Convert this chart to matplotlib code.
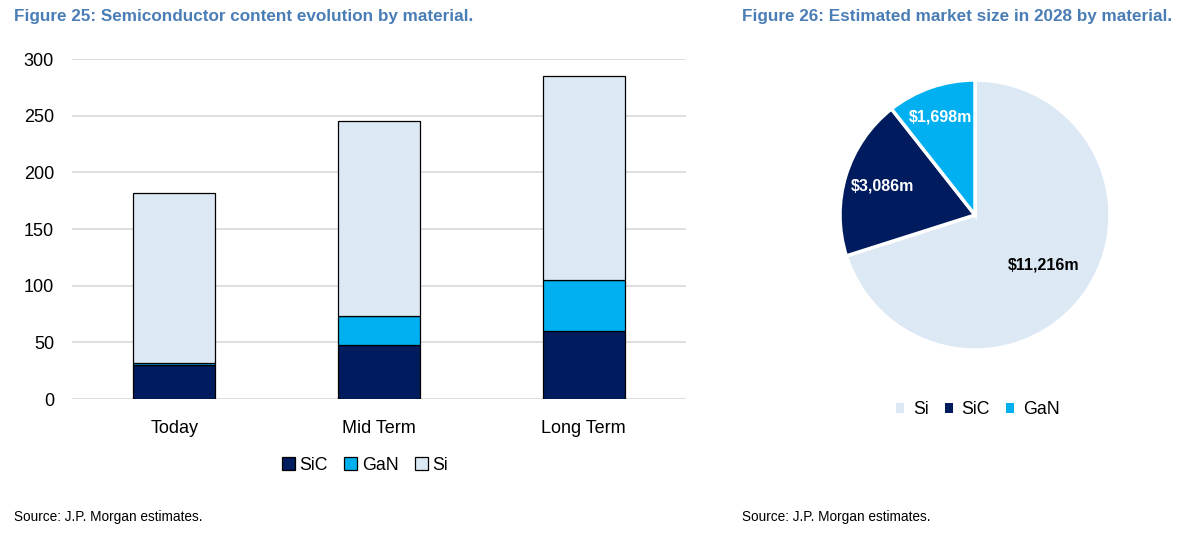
import numpy as np
import matplotlib.pyplot as plt
from matplotlib.patches import Patch

# DATA
categories = ['Today', 'Mid Term', 'Long Term']
sic_content = [30, 48, 60]
gan_content = [2, 25, 45]
si_content = [150, 172, 180]

pie_labels = ['Si', 'SiC', 'GaN']
pie_values = [11216, 3086, 1698]
pie_texts = ['$11,216m', '$3,086m', '$1,698m']

# STYLE
c_sic = '#001b5e'
c_gan = '#00b0f0'
c_si = '#dce9f5'
title_col = '#4a7db5'
plt.rcParams['font.family'] = ['Liberation Sans', 'DejaVu Sans']

fig = plt.figure(figsize=(11.91, 5.47), dpi=100)

# Bar chart (Figure 25)
ax = fig.add_axes([72/1191, 1-399/547, (686-72)/1191, 340/547])
x = np.arange(len(categories))
w = 0.4
bot = np.zeros(len(categories))
for vals, col, lab in [(sic_content, c_sic, 'SiC'), (gan_content, c_gan, 'GaN'), (si_content, c_si, 'Si')]:
    ax.bar(x, vals, w, bottom=bot, color=col, edgecolor='black', linewidth=0.9, label=lab, zorder=3)
    bot += np.array(vals)
ax.set_xlim(-0.5, 2.5)
ax.set_ylim(0, 300)
ax.set_yticks(range(0, 301, 50))
ax.yaxis.grid(True, color='#d9d9d9', linewidth=1.2, zorder=0)
ax.set_xticks(x)
ax.set_xticklabels(categories)
for s in ax.spines.values():
    s.set_visible(False)
ax.tick_params(axis='both', length=0, labelsize=13)
ax.tick_params(axis='y', pad=13)
ax.tick_params(axis='x', pad=15)

handles = [Patch(facecolor=c, edgecolor='black', linewidth=0.9) for c in (c_sic, c_gan, c_si)]
fig.legend(handles, ['SiC', 'GaN', 'Si'], loc='center', bbox_to_anchor=(365/1191, 1-465/547),
           ncol=3, frameon=False, fontsize=12.8, handlelength=0.75, handleheight=0.75,
           handletextpad=0.25, columnspacing=0.9)

fig.text(14/1191, 1-16/547, 'Figure 25: Semiconductor content evolution by material.',
         color=title_col, fontsize=12.3, fontweight='bold', va='center', ha='left')
fig.text(14/1191, 1-517/547, 'Source: J.P. Morgan estimates.', fontsize=9.8, va='center', ha='left')

# Pie chart (Figure 26)
pax = fig.add_axes([(975-135)/1191, 1-(215+135)/547, 270/1191, 270/547])
wedges, _ = pax.pie(pie_values, colors=[c_si, c_sic, c_gan], startangle=90, counterclock=False,
                    wedgeprops=dict(edgecolor='white', linewidth=2.5))
pax.set_xlim(-1, 1)
pax.set_ylim(-1, 1)
dists = [0.63, 0.72, 0.77]
tcols = ['black', 'white', 'white']
for wd, txt, d, tc in zip(wedges, pie_texts, dists, tcols):
    ang = np.deg2rad((wd.theta1 + wd.theta2) / 2)
    pax.text(d*np.cos(ang), d*np.sin(ang), txt, ha='center', va='center',
             color=tc, fontsize=11.5, fontweight='bold')

ph = [Patch(facecolor=c, edgecolor='none') for c in (c_si, c_sic, c_gan)]
fig.legend(ph, pie_labels, loc='center', bbox_to_anchor=(978/1191, 1-410/547),
           ncol=3, frameon=False, fontsize=12.8, handlelength=0.45, handleheight=0.45,
           handletextpad=0.5, columnspacing=0.9)

fig.text(742/1191, 1-16/547, 'Figure 26: Estimated market size in 2028 by material.',
         color=title_col, fontsize=12.3, fontweight='bold', va='center', ha='left')
fig.text(742/1191, 1-517/547, 'Source: J.P. Morgan estimates.', fontsize=9.8, va='center', ha='left')

fig.savefig('out.png', dpi=100)
